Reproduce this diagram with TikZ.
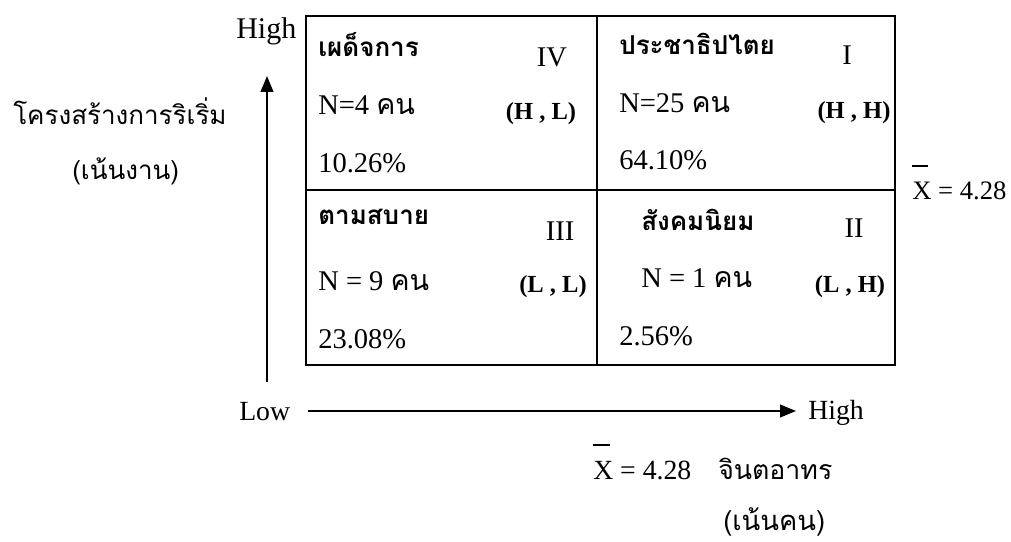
\documentclass[tikz,border=0pt]{standalone}
\usepackage{fontspec}
\setmainfont{Liberation Serif}
\newfontfamily\thai[Script=Thai]{Loma}
\usetikzlibrary{arrows.meta}
\tikzset{
  cell/.style={font=\fontsize{21.4pt}{24pt}\selectfont, inner sep=0pt, anchor=base west},
  roman/.style={font=\fontsize{21.4pt}{24pt}\selectfont, inner sep=0pt, anchor=base},
  hl/.style={font=\fontsize{18.4pt}{22pt}\selectfont\bfseries, inner sep=0pt, anchor=base},
  ttl/.style={font=\fontsize{19.5pt}{24pt}\selectfont\thai\bfseries, inner sep=0pt, anchor=base west},
  axlbl/.style={font=\fontsize{20.8pt}{24pt}\selectfont, inner sep=0pt, anchor=base west},
  thlbl/.style={font=\fontsize{19.5pt}{24pt}\selectfont\thai, inner sep=0pt, anchor=base west},
  grid/.style={line width=1.2pt},
  axis/.style={line width=1.6pt, -{Triangle[length=12pt,width=9.5pt]}},
}
\newcommand{\xbar}{{\rlap{\raisebox{1.2em}{\rule{0.6em}{0.07em}}}X}}
\begin{document}
\begin{tikzpicture}[x=0.75pt,y=-0.75pt]
\useasboundingbox (0,0) rectangle (1011,542);
% grid
\coordinate (tl) at (306,16);
\coordinate (br) at (895,365);
\coordinate (mt) at (597,16);
\coordinate (mb) at (597,365);
\coordinate (ml) at (306,190);
\coordinate (mr) at (895,190);
\draw[grid] (tl) rectangle (br);
\draw[grid] (mt) -- (mb);
\draw[grid] (ml) -- (mr);
% axes
\coordinate (vb) at (267,382);
\coordinate (vt) at (267,76);
\coordinate (hs) at (308,411);
\coordinate (he) at (796,411);
\draw[axis] (vb) -- (vt);
\draw[axis] (hs) -- (he);
% axis labels
\node[axlbl, font=\fontsize{22.5pt}{26pt}\selectfont] (hightop) at (236,39) {High};
\node[axlbl] (low) at (239,420) {Low};
\node[axlbl] (highr) at (808,419) {High};
\node[thlbl] (ylab1) at (13,125) {โครงสร้างการริเริ่ม};
\node[thlbl] (ylab2) at (72,180) {(เน้นงาน)};
\node[axlbl, font=\fontsize{20pt}{24pt}\selectfont] (xbarr) at (912,199) {\xbar{} = 4.28};
\node[axlbl] (xbarb) at (593,479) {\xbar{} = 4.28};
\node[thlbl, font=\fontsize{20pt}{24pt}\selectfont\thai] (xlab1) at (718,479) {จินตอาทร};
\node[thlbl, font=\fontsize{20.5pt}{24pt}\selectfont\thai] (xlab2) at (723,530) {(เน้นคน)};
% cell IV
\node[ttl] (t4) at (318,57) {เผด็จการ};
\node[roman] (r4) at (552,67) {IV};
\node[cell] (n4) at (318,115) {N=4 {\thai คน}};
\node[hl] (h4) at (541,119) {(H , L)};
\node[cell] (p4) at (318,172) {10.26\%};
% cell I
\node[ttl] (t1) at (619,55) {ประชาธิปไตย};
\node[roman] (r1) at (847,65) {I};
\node[cell] (n1) at (619,113) {N=25 {\thai คน}};
\node[hl] (h1) at (854,118) {(H , H)};
\node[cell] (p1) at (619,170) {64.10\%};
% cell III
\node[ttl] (t3) at (318,224) {ตามสบาย};
\node[roman] (r3) at (560,240) {III};
\node[cell] (n3) at (318,290) {N = 9 {\thai คน}};
\node[hl] (h3) at (553,292) {(L , L)};
\node[cell] (p3) at (318,348) {23.08\%};
% cell II
\node[ttl] (t2) at (641,230) {สังคมนิยม};
\node[roman] (r2) at (854,237) {II};
\node[cell] (n2) at (641,287) {N = 1 {\thai คน}};
\node[hl] (h2) at (850,292) {(L , H)};
\node[cell] (p2) at (619,345) {2.56\%};
\end{tikzpicture}
\end{document}
